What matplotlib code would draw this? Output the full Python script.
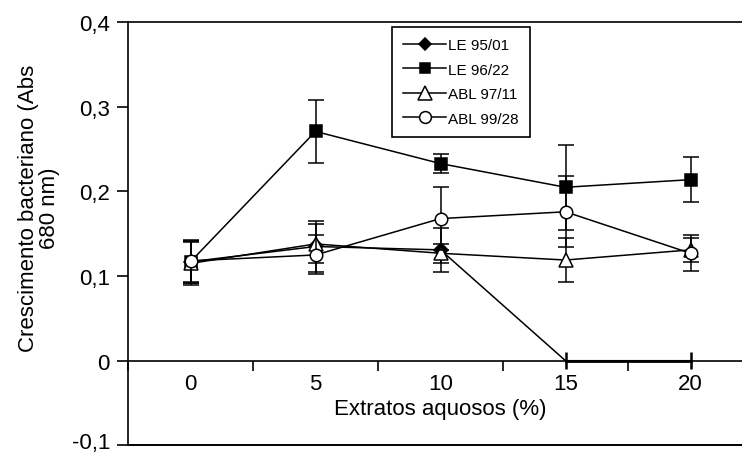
import numpy as np
import matplotlib
matplotlib.use("Agg")
import matplotlib.pyplot as plt
from matplotlib.lines import Line2D
from matplotlib.transforms import ScaledTranslation

plt.rcParams["font.family"] = ["Liberation Sans", "DejaVu Sans"]

# Extract concentration (%) and absorbance means / errors per isolate
categories = ["0", "5", "10", "15", "20"]
le_9501 = [0.117, 0.135, 0.131, 0.0, 0.0]
le_9501_err = [0.025, 0.030, 0.026, 0.0, 0.0]
le_9622 = [0.117, 0.271, 0.233, 0.205, 0.214]
le_9622_err = [0.025, 0.037, 0.011, 0.050, 0.027]
abl_9711 = [0.115, 0.138, 0.127, 0.119, 0.131]
abl_9711_err = [0.025, 0.023, 0.011, 0.026, 0.014]
abl_9928 = [0.118, 0.125, 0.168, 0.176, 0.127]
abl_9928_err = [0.025, 0.023, 0.037, 0.042, 0.021]
# short vertical bars where LE 95/01 falls to zero
zero_bar = 0.01

yticks = [-0.1, 0.0, 0.1, 0.2, 0.3, 0.4]
ytick_labels = ["-0,1", "0", "0,1", "0,2", "0,3", "0,4"]

series = [
    ("LE 95/01", le_9501, le_9501_err, "D", "black", 7),
    ("LE 96/22", le_9622, le_9622_err, "s", "black", 8),
    ("ABL 97/11", abl_9711, abl_9711_err, "^", "white", 10),
    ("ABL 99/28", abl_9928, abl_9928_err, "o", "white", 9),
]

W, H = 742, 456
fig = plt.figure(figsize=(W / 100, H / 100), dpi=100)
left, right, top, bottom = 128, 753, 23.3, 446.3
ax = fig.add_axes([left / W, 1 - bottom / H, (right - left) / W, (bottom - top) / H])

x = np.arange(len(categories))
lw = 1.1

handles = []
for i, (name, vals, err, mk, fc, ms) in enumerate(series):
    vals = np.asarray(vals)
    err = np.asarray(err)
    has = err > 0
    ax.errorbar(x[has], vals[has], yerr=err[has], fmt="none", ecolor="black",
                elinewidth=lw, capsize=6, capthick=lw, zorder=3 + i)
    # markers only where a value was measured above zero
    show = vals > 0
    ax.plot(x, vals, "-", color="black", lw=lw, zorder=3 + i)
    ax.plot(x[show], vals[show], linestyle="none", marker=mk, ms=ms,
            mfc=fc, mec="black", mew=lw, zorder=3.5 + i)
    if (~show).any():
        ax.errorbar(x[~show], vals[~show], yerr=zero_bar, fmt="none",
                    ecolor="black", elinewidth=1.8, capsize=0, zorder=3 + i)
        ax.plot(x[~show], vals[~show], "-", color="black", lw=2.0, zorder=3 + i)
    handles.append(Line2D([], [], color="black", lw=lw, marker=mk, ms=ms - 0.5,
                          mfc=fc, mec="black", mew=lw, label=name))

ax.set_xlim(-0.5, 4.5)
ax.set_ylim(-0.1, 0.4)

# category axis crosses at zero, plot-area border closes the box
ax.spines["bottom"].set_position(("data", 0))
ax.spines["right"].set_visible(False)
for sp in ["left", "top", "bottom"]:
    ax.spines[sp].set_linewidth(1.2)
ax.axhline(-0.1, color="black", lw=1.4, clip_on=False, zorder=10)

ax.set_xticks(x)
ax.set_xticklabels(categories, fontsize=16)
ax.set_xticks(np.arange(-0.5, 5.0, 1.0), minor=True)
ax.tick_params(axis="x", which="major", length=0, pad=9)
ax.tick_params(axis="x", which="minor", direction="out", length=7, width=1.2)

ax.set_yticks(yticks)
ax.set_yticklabels(ytick_labels, fontsize=16)
ax.tick_params(axis="y", direction="out", length=8, width=1.2, pad=5)
# lift the lowest label a little so it stays inside the figure
lowest = ax.get_yticklabels()[0]
lowest.set_transform(lowest.get_transform() + ScaledTranslation(0, 4 / 72, fig.dpi_scale_trans))

ax.text(2.0, -0.056, "Extratos aquosos (%)", ha="center", va="center", fontsize=16)
fig.text(39 / W, 1 - 208 / H, "Crescimento bacteriano (Abs\n680 nm)", rotation=90,
         ha="center", va="center", fontsize=16, linespacing=1.05,
         multialignment="center")

leg = ax.legend(handles=handles, loc="upper left",
                bbox_to_anchor=((392 - left) / (right - left), 1 - (28 - top) / (bottom - top)),
                fontsize=11, frameon=True, fancybox=False, framealpha=1,
                edgecolor="black", handlelength=2.8, handletextpad=0.1,
                borderpad=0.75, labelspacing=0.68, borderaxespad=0)
leg.get_frame().set_linewidth(1.2)

fig.savefig("out.png", dpi=100)
